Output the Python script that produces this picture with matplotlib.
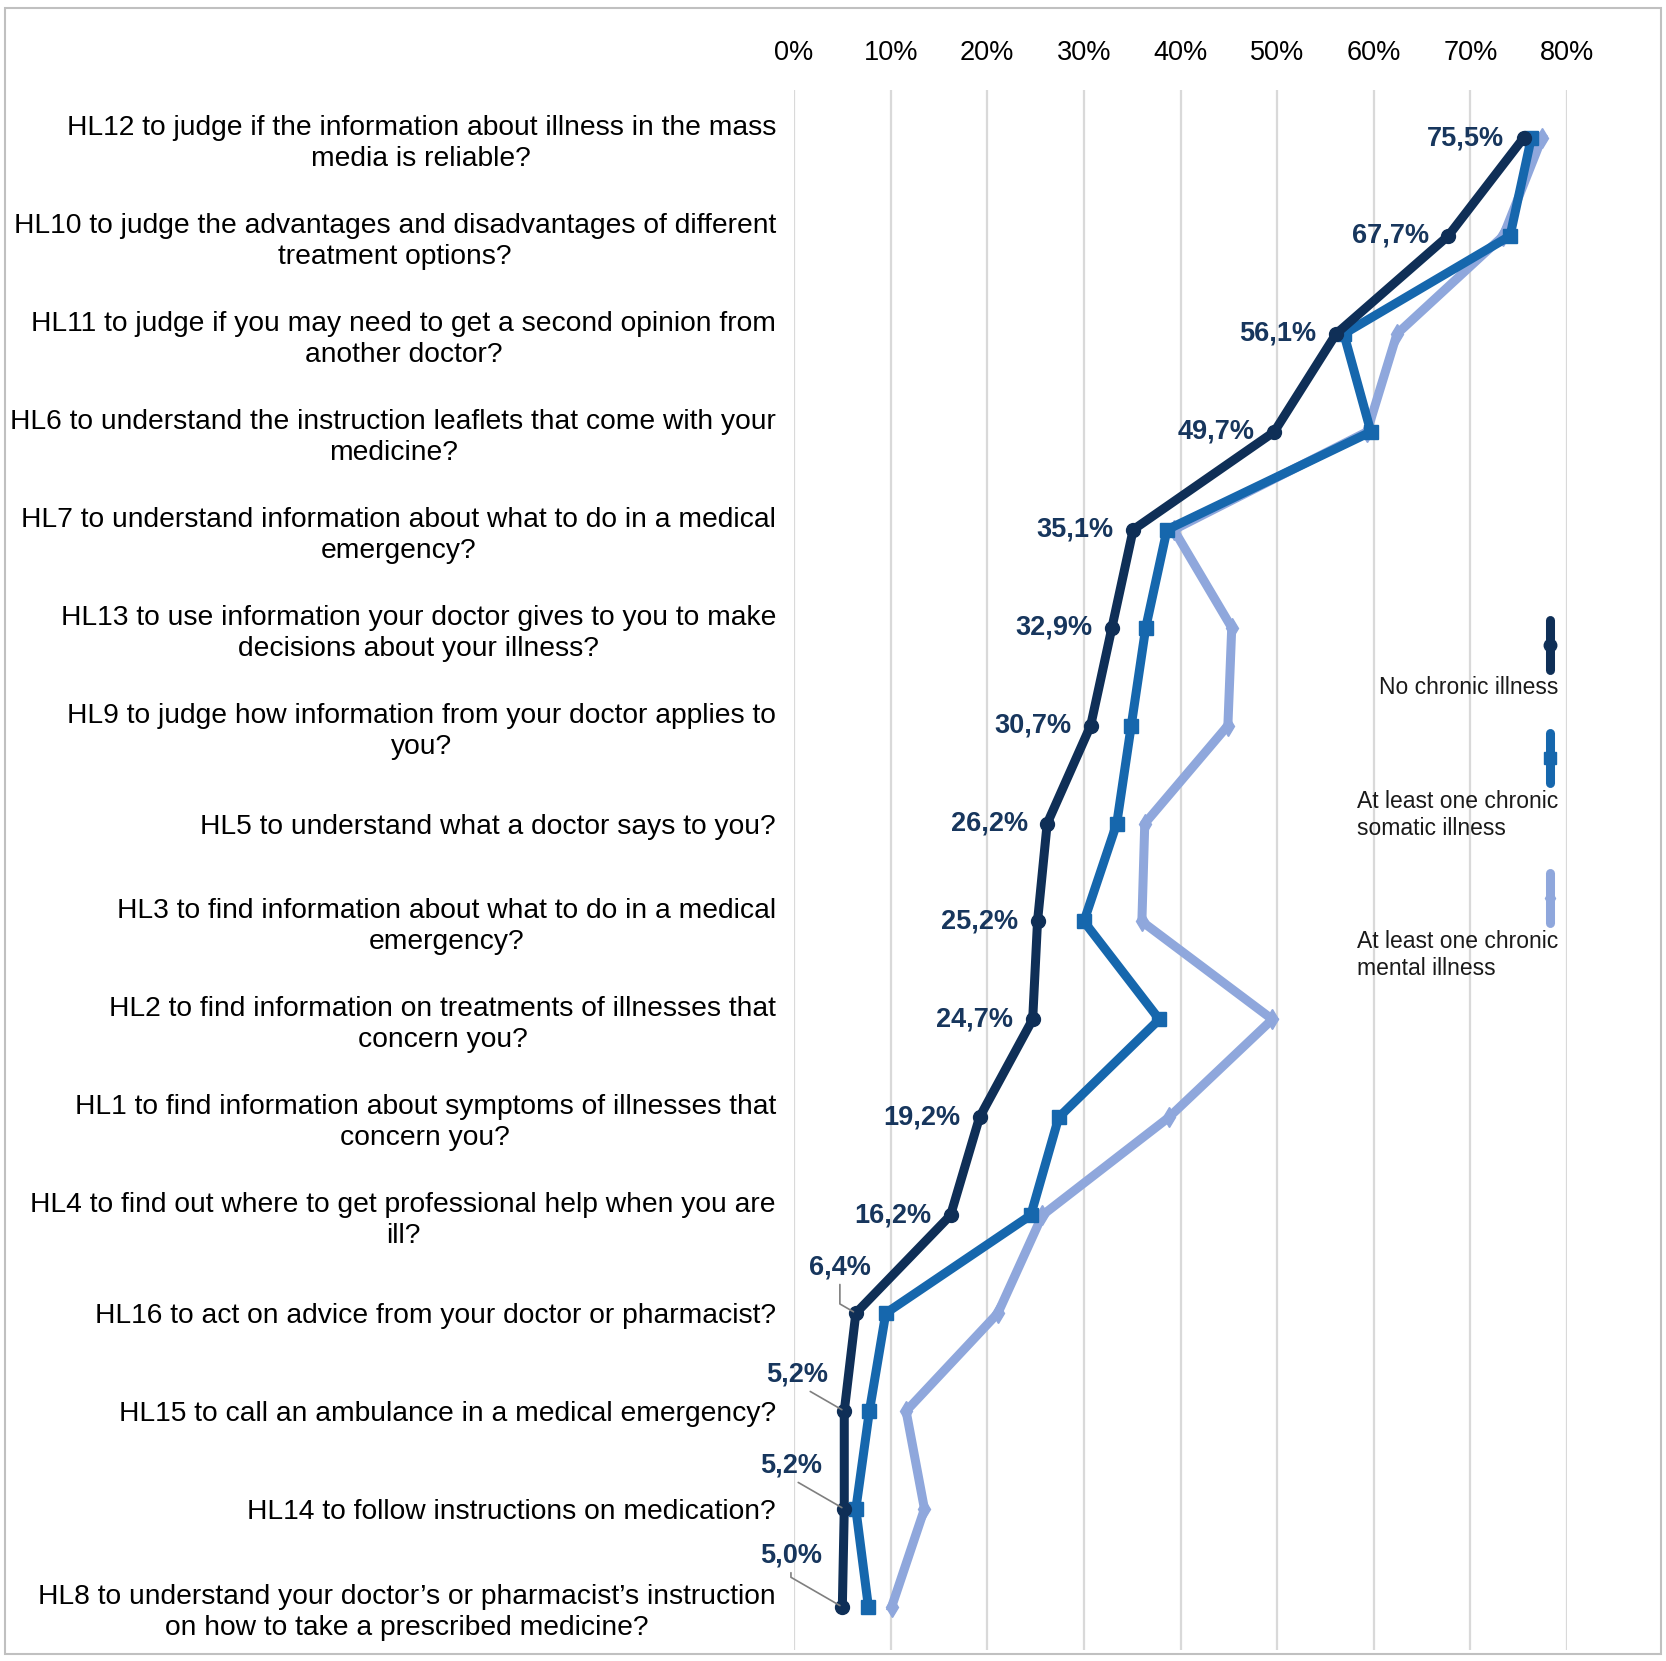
import matplotlib
matplotlib.use("Agg")
import matplotlib.pyplot as plt
from matplotlib.patches import Rectangle
from matplotlib.lines import Line2D

plt.rcParams['font.family'] = ['Liberation Sans', 'DejaVu Sans']

categories = [
    "HL12 to judge if the information about illness in the mass\nmedia is reliable?",
    "HL10 to judge the advantages and disadvantages of different\ntreatment options?",
    "HL11 to judge if you may need to get a second opinion from\nanother doctor?",
    "HL6 to understand the instruction leaflets that come with your\nmedicine?",
    "HL7 to understand information about what to do in a medical\nemergency?",
    "HL13 to use information your doctor gives to you to make\ndecisions about your illness?",
    "HL9 to judge how information from your doctor applies to\nyou?",
    "HL5 to understand what a doctor says to you?",
    "HL3 to find information about what to do in a medical\nemergency?",
    "HL2 to find information on treatments of illnesses that\nconcern you?",
    "HL1 to find information about symptoms of illnesses that\nconcern you?",
    "HL4 to find out where to get professional help when you are\nill?",
    "HL16 to act on advice from your doctor or pharmacist?",
    "HL15 to call an ambulance in a medical emergency?",
    "HL14 to follow instructions on medication?",
    "HL8 to understand your doctor\u2019s or pharmacist\u2019s instruction\non how to take a prescribed medicine?",
]

no_chronic = [75.5, 67.7, 56.1, 49.7, 35.1, 32.9, 30.7, 26.2, 25.2, 24.7, 19.2, 16.2, 6.4, 5.2, 5.2, 5.0]
somatic = [76.3, 74.1, 56.9, 59.7, 38.6, 36.4, 34.9, 33.4, 30.0, 37.8, 27.4, 24.5, 9.5, 7.8, 6.4, 7.7]
mental = [77.4, 73.4, 62.4, 59.3, 39.3, 45.3, 44.9, 36.3, 36.0, 49.5, 38.8, 25.7, 21.1, 11.6, 13.5, 10.1]

series_names = ["No chronic illness", "At least one chronic\nsomatic illness", "At least one chronic\nmental illness"]
xticks = [0, 10, 20, 30, 40, 50, 60, 70, 80]
xticklabels = ["0%", "10%", "20%", "30%", "40%", "50%", "60%", "70%", "80%"]

c_dark = "#0f2f57"
c_mid = "#1667ad"
c_light = "#8fa7dc"
c_label = "#17365d"

fig = plt.figure(figsize=(16.66, 16.61), dpi=100)
ax = fig.add_axes([0.4766, 0.0066, 0.9406 - 0.4766, 0.9458 - 0.0066])

ypos = list(range(len(categories)))

ax.plot(mental, ypos, color=c_light, lw=6.5, marker='d', ms=10, zorder=3, solid_joinstyle='miter')
ax.plot(somatic, ypos, color=c_mid, lw=6.5, marker='s', ms=10.5, zorder=4, solid_joinstyle='miter')
ax.plot(no_chronic, ypos, color=c_dark, lw=6.5, marker='o', ms=10, zorder=5, solid_joinstyle='miter')

ax.set_xlim(0, 80)
ax.set_ylim(15.44, -0.49)
ax.xaxis.tick_top()
ax.set_xticks(xticks)
ax.set_xticklabels(xticklabels, fontsize=19.5)
ax.set_yticks(ypos)
ax.set_yticklabels(categories, fontsize=20.3, linespacing=1.25)
for lbl in ax.get_yticklabels():
    lbl.set_multialignment('center')
ax.tick_params(axis='x', length=0, pad=17)
ax.tick_params(axis='y', length=0, pad=13)
ax.grid(axis='x', color='#d9d9d9', lw=1.6)
ax.set_axisbelow(True)
for s in ax.spines.values():
    s.set_visible(False)

# data labels for the "No chronic illness" series
leader = {12: (-11.5, 33), 13: (-34, 26), 14: (-38, 31), 15: (-37, 37)}
for i, v in enumerate(no_chronic):
    txt = f"{v:.1f}%".replace('.', ',')
    if i in leader:
        ax.annotate(txt, xy=(v, i), xytext=leader[i], textcoords='offset points',
                    ha='center', va='center', fontsize=19.5, fontweight='bold', color=c_label,
                    arrowprops=dict(arrowstyle='-', color='#7f7f7f', lw=1.2,
                                    connectionstyle='angle,angleA=90,angleB=150,rad=0',
                                    shrinkA=1, shrinkB=2), zorder=6)
    else:
        ax.annotate(txt, xy=(v, i), xytext=(-14, 0), textcoords='offset points',
                    ha='right', va='center', fontsize=19.5, fontweight='bold', color=c_label, zorder=6)

# legend: vertical line handles with labels below
leg_x = 1550 / 1666
leg_items = [
    (c_dark, 'o', 620, 670, 688),
    (c_mid, 's', 733, 783, 815),
    (c_light, 'd', 873, 923, 955),
]
H = 1661
for (col, mk, y1, y2, ty), name in zip(leg_items, series_names):
    fig.add_artist(Line2D([leg_x, leg_x], [1 - y1 / H, 1 - y2 / H], color=col, lw=6.5,
                          transform=fig.transFigure, solid_capstyle='round'))
    fig.add_artist(Line2D([leg_x], [1 - (y1 + y2) / 2 / H], color=col, marker=mk, ms=9,
                          transform=fig.transFigure))
    fig.text(1558 / 1666, 1 - ty / H, name, ha='right', va='center', multialignment='left',
             fontsize=16.5, color='#1a1a1a')

fig.add_artist(Rectangle((0.003, 0.004), 0.994, 0.991, transform=fig.transFigure,
                         fill=False, edgecolor='#c0c0c0', lw=1.5))

fig.savefig("out.png", dpi=100, facecolor='white')
